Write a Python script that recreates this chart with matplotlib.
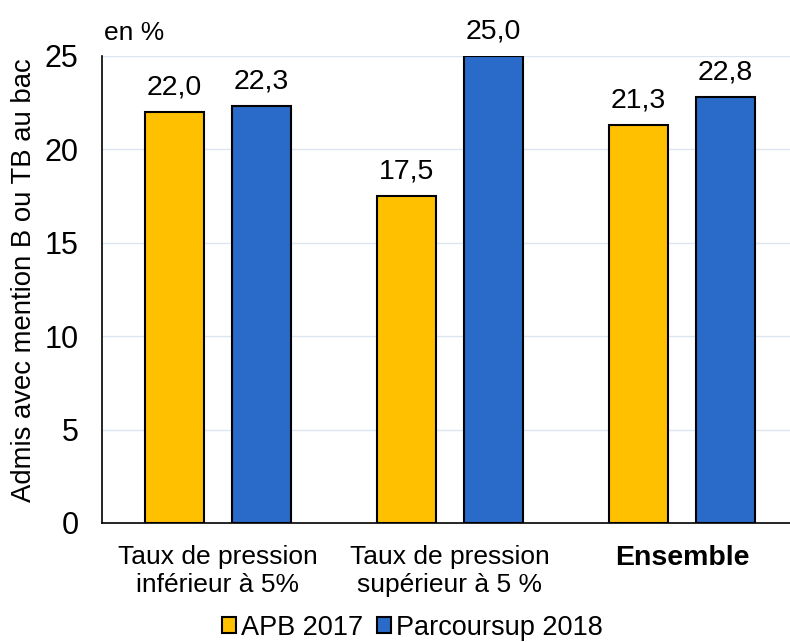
import matplotlib.pyplot as plt
import numpy as np

plt.rcParams['font.family'] = ['Liberation Sans', 'DejaVu Sans']

categories = ["Taux de pression\ninférieur à 5%", "Taux de pression\nsupérieur à 5 %", "Ensemble"]
apb_2017 = [22.0, 17.5, 21.3]
parcoursup_2018 = [22.3, 25.0, 22.8]
series_names = ["APB 2017", "Parcoursup 2018"]
yticks = [0, 5, 10, 15, 20, 25]

fig = plt.figure(figsize=(7.9, 6.42), dpi=100)
ax = fig.add_axes([0.1291, 0.1854, 0.8709, 0.7274])

x = np.arange(len(categories))
w = 0.254
off = 0.1875
b1 = ax.bar(x - off, apb_2017, w, color="#FFC000", edgecolor="black", linewidth=1.5,
            label=series_names[0], zorder=3)
b2 = ax.bar(x + off, parcoursup_2018, w, color="#2A6AC8", edgecolor="black", linewidth=1.5,
            label=series_names[1], zorder=3)

# valeurs au-dessus des barres
for bars in (b1, b2):
    for r in bars:
        v = r.get_height()
        ax.text(r.get_x() + r.get_width() / 2, v + 0.95, f"{v:.1f}".replace(".", ","),
                ha="center", va="baseline", fontsize=20.5, clip_on=False)

ax.set_xlim(-0.5, 2.466)
ax.set_ylim(0, 25)
ax.set_yticks(yticks)
ax.set_yticklabels([str(t) for t in yticks], fontsize=22)
ax.set_xticks(x)
ax.set_xticklabels(categories, fontsize=19, linespacing=1.2)
ax.get_xticklabels()[2].set_fontweight("bold")
ax.get_xticklabels()[2].set_fontsize(20.5)
ax.tick_params(axis="both", length=0)
ax.tick_params(axis="x", pad=16)
ax.tick_params(axis="y", pad=17)

ax.grid(axis="y", color="#DCE6F2", linewidth=1, zorder=0)
for s in ("top", "right"):
    ax.spines[s].set_visible(False)
ax.spines["left"].set_linewidth(1.2)
ax.spines["bottom"].set_linewidth(1.2)

ax.set_ylabel("Admis avec mention B ou TB au bac", fontsize=19.8)
ax.yaxis.set_label_coords(-0.094, 0.52)
fig.text(104 / 790, 1 - 33 / 642, "en %", fontsize=19, ha="left", va="center")

fig.legend(handles=[b1, b2], loc="lower center", bbox_to_anchor=(0.522, -0.036),
           ncol=2, frameon=False, fontsize=19.5, handlelength=0.52, handleheight=0.52,
           handletextpad=0.2, columnspacing=0.5)

fig.savefig("out.png", dpi=100)
